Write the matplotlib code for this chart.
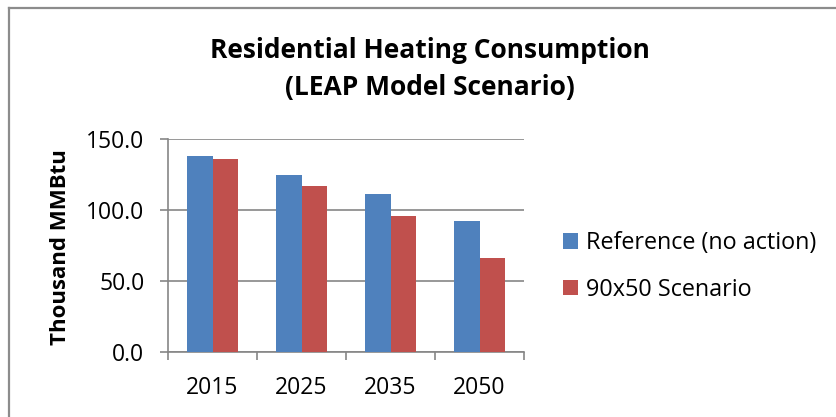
import matplotlib
matplotlib.use('Agg')
import matplotlib.pyplot as plt
from matplotlib.lines import Line2D
import numpy as np

years = ['2015', '2025', '2035', '2050']
reference = [138.0, 124.7, 111.1, 92.1]
scenario = [135.9, 117.2, 95.8, 66.3]
series_names = ['Reference (no action)', '90x50 Scenario']
yticks = [0, 50, 100, 150]

plt.rcParams['font.family'] = ['Open Sans', 'DejaVu Sans']

W, H = 836, 417
fig = plt.figure(figsize=(W / 100, H / 100), dpi=100)

# chart area border (only left and top visible, rest is cropped)
bx, by = 8.5 / W, 1 - 7.5 / H
fig.add_artist(Line2D([bx, bx], [0, by], transform=fig.transFigure, color='#8c8c8c', lw=1.6))
fig.add_artist(Line2D([bx, 1], [by, by], transform=fig.transFigure, color='#8c8c8c', lw=1.6))

ax = fig.add_axes([168 / W, 1 - 352 / H, (524 - 168) / W, (352 - 139) / H])

x = np.arange(len(years))
w = 1 / 3.5
ax.bar(x - w / 2, reference, w, color='#4F81BD', label=series_names[0], zorder=3)
ax.bar(x + w / 2, scenario, w, color='#C0504D', label=series_names[1], zorder=3)

ax.set_xlim(-0.5, len(years) - 0.5)
ax.set_ylim(0, 150)
ax.set_yticks(yticks)
ax.set_yticklabels(['%.1f' % v for v in yticks], fontsize=16.5)
ax.set_xticks(x)
ax.set_xticklabels(years, fontsize=16.5)
ax.set_xticks(np.arange(len(years) + 1) - 0.5, minor=True)
ax.tick_params(axis='x', which='major', length=0, pad=17)
ax.tick_params(axis='x', which='minor', length=6, color='#868686', width=1.2)
ax.tick_params(axis='y', length=6, color='#868686', width=1.2, pad=11)
ax.yaxis.grid(True, color='#868686', linewidth=1.2, zorder=0)

for s in ['top', 'right']:
    ax.spines[s].set_visible(False)
for s in ['left', 'bottom']:
    ax.spines[s].set_color('#868686')
    ax.spines[s].set_linewidth(1.2)

fig.text(60 / W, 1 - 247.5 / H, 'Thousand MMBtu', rotation=90, ha='center', va='center',
         fontsize=16, fontweight='bold')
fig.text(430 / W, 1 - 50 / H, 'Residential Heating Consumption',
         ha='center', va='center', fontsize=19, fontweight='bold')
fig.text(430 / W, 1 - 88 / H, '(LEAP Model Scenario)',
         ha='center', va='center', fontsize=19, fontweight='bold')

fig.legend(loc='center left', bbox_to_anchor=(563 / W, 1 - 266.5 / H), frameon=False,
           fontsize=16.8, handlelength=0.65, handleheight=0.65, handletextpad=0.35,
           labelspacing=0.95, borderaxespad=0, borderpad=0)

fig.savefig('out.png', dpi=100)
